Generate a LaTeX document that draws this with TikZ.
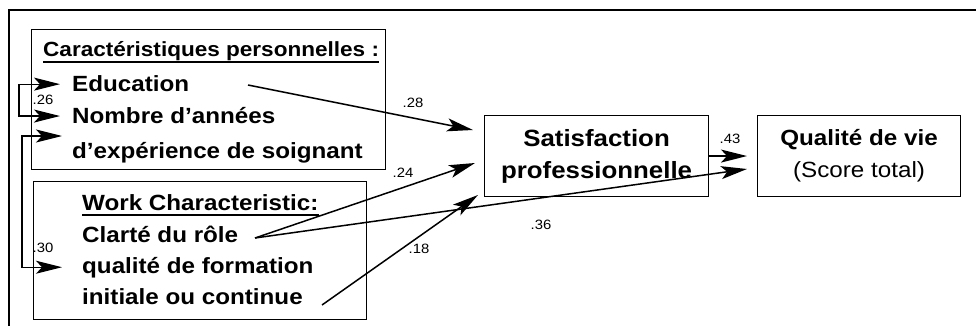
\documentclass[tikz,border=0pt]{standalone}
\usepackage{fontspec}
\setmainfont{Liberation Sans}[FakeStretch=1.1]
\usetikzlibrary{arrows.meta}

\tikzset{
  box/.style={draw, line width=1.1pt, inner sep=0pt},
  head/.style={anchor=base west, inner sep=0pt, font=\fontsize{20.5}{24}\selectfont\bfseries},
  item/.style={anchor=base west, inner sep=0pt, font=\fontsize{22}{26}\selectfont\bfseries},
  coef/.style={inner sep=0pt, font=\fontsize{13.5}{15}\selectfont},
  uline/.style={line width=1.5pt},
  tip/.tip={Stealth[length=26pt,width=13pt,inset=6pt]},
  link/.style={-tip, line width=1.5pt},
  twin/.style={tip-tip, line width=1.2pt},
}

\begin{document}
\begin{tikzpicture}[x=1pt, y=-1pt]
  \fill[white] (0,0) rectangle (976,326);
  \useasboundingbox (0,0) rectangle (976,326);

  % Outer frame (cut at right and bottom)
  \draw[line width=2pt] (9,326) -- (9,10) -- (976,10);

  % Personal characteristics
  \node[box, anchor=north west, minimum width=354pt, minimum height=140pt] (persoBox) at (31,29) {};
  \node[head] (persoHead) at (43,57) {Caractéristiques personnelles :};
  \draw[uline] ([yshift=-5pt]persoHead.base west) -- ([yshift=-5pt]persoHead.base east);
  \node[item] (educ) at (72,92) {Education};
  \node[item] (annees) at (72,124) {Nombre d’années};
  \node[item] (soignant) at (72,158) {d’expérience de soignant};

  % Work characteristics
  \node[box, anchor=north west, minimum width=333pt, minimum height=138pt] (workBox) at (33,181) {};
  \node[item] (workHead) at (82,210) {Work Characteristic:};
  \draw[uline] ([yshift=-5pt]workHead.base west) -- ([yshift=-5pt]workHead.base east);
  \node[item] (clarte) at (82,242) {Clarté du rôle};
  \node[item] (formation) at (82,273) {qualité de formation};
  \node[item] (continue) at (82,304) {initiale ou continue};

  % Outcomes
  \node[box, anchor=north west, minimum width=224pt, minimum height=81pt, align=center,
        font=\fontsize{23.5}{32}\selectfont\bfseries] (satis) at (484,115) {Satisfaction\\professionnelle};
  \node[box, anchor=north west, minimum width=203pt, minimum height=81pt, align=center,
        font=\fontsize{22}{32}\selectfont] (qualit) at (757,115) {\textbf{Qualité de vie}\\(Score total)};

  % Correlations on the left
  \coordinate (soignTip) at (62,136);
  \draw[twin] ([xshift=-12pt]educ.west) -- ++(-41pt,0) |- ([xshift=-12pt]annees.west);
  \node[coef] (c26) at (43,100) {.26};
  \draw[twin] (soignTip) -- ++(-40pt,0) |- ([xshift=-20pt]formation.west);
  \node[coef] (c30) at (43,248) {.30};

  % Paths
  \coordinate (educOut) at (248,85);
  \coordinate (clarteOut) at (255,238);
  \coordinate (contOut) at (322,305);
  \coordinate (satInA) at (473,130);
  \coordinate (satInB) at (475,163);
  \coordinate (satInC) at (478,195);
  \coordinate (qualInB) at (747,169);

  \draw[link] (educOut) -- (satInA);
  \node[coef] (c28) at (413,103) {.28};
  \draw[link] (clarteOut) -- (satInB);
  \node[coef] (c24) at (403,173) {.24};
  \draw[link] (clarteOut) -- (qualInB);
  \node[coef] (c36) at (541,225) {.36};
  \draw[link] (contOut) -- (satInC);
  \node[coef] (c18) at (419,249) {.18};
  \draw[link] (satis.east) -- ([xshift=-10pt]qualit.west |- satis.east);
  \node[coef] (c43) at (730,139) {.43};
\end{tikzpicture}
\end{document}
